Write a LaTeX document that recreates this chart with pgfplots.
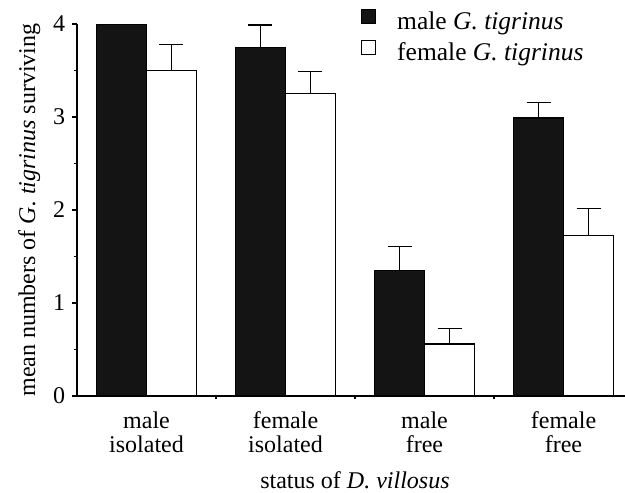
\documentclass[border=0pt]{standalone}
\usepackage{pgfplots}
\pgfplotsset{compat=1.18}
\usepackage{fontspec}
\setmainfont{Liberation Serif}

% square legend swatches, padded to leave room before the text
\pgfplotsset{
  sqlegend/.style={legend image code/.code={
      \draw[line width=1.2pt,##1] (0pt,0pt) rectangle (14pt,14pt);
      \path (35pt,0pt);}},
}

\begin{document}
\fontsize{24}{24}\selectfont
\begin{tikzpicture}
\begin{axis}[
  at={(77pt,97pt)}, anchor=south west,
  scale only axis, width=556pt, height=372pt,
  xmin=-0.5, xmax=3.5, ymin=0, ymax=4,
  axis x line*=bottom, axis y line*=left,
  axis line style={line width=1.2pt, -},
  ybar=0pt, bar width=50pt,
  xtick={0,1,2,3},
  xticklabels={{male\\isolated},{female\\isolated},{male\\free},{female\\free}},
  xticklabel style={align=center, yshift=-3pt},
  major x tick style={draw=none},
  minor xtick={0.5,1.5,2.5},
  ytick={0,1,2,3,4}, minor ytick={0.5,1.5,2.5,3.5},
  yticklabel style={xshift=1pt},
  tick align=outside,
  major tick length=4.7pt, minor tick length=3.3pt,
  tick style={line width=1.2pt, black},
  /pgf/number format/assume math mode=true,
  every axis y label/.style={at={(axis description cs:-0.0755,0.5)}, anchor=base, rotate=90},
  every axis x label/.style={at={(axis description cs:0.5,-0.25)}, anchor=base},
  ylabel={mean numbers of \textit{G. tigrinus} surviving},
  xlabel={status of \textit{D. villosus}},
  legend style={draw=none, fill=none, at={(axis description cs:0.5108,1.0403)},
    anchor=north west, inner sep=0pt, outer sep=0pt, row sep=6pt, column sep=0pt,
    font=\fontsize{25.5}{26}\selectfont,
    nodes={inner sep=0pt, text height=16pt, text depth=5pt}},
  legend cell align=left,
  error bars/y dir=plus, error bars/y explicit,
  error bars/error bar style={line width=1.2pt, black},
  error bars/error mark options={line width=1.2pt, black, mark size=12pt, rotate=90},
]
\addplot[draw=black, fill=black!92, line width=1.2pt, sqlegend]
  coordinates {(0,4.00) +- (0,0) (1,3.75) +- (0,0.24) (2,1.35) +- (0,0.26) (3,2.99) +- (0,0.17)};
\addplot[draw=black, fill=white, line width=1.2pt, sqlegend]
  coordinates {(0,3.50) +- (0,0.28) (1,3.25) +- (0,0.24) (2,0.56) +- (0,0.17) (3,1.73) +- (0,0.29)};
\legend{male \textit{G. tigrinus}, female \textit{G. tigrinus}}
\end{axis}
\pgfresetboundingbox
\path (0pt,0pt) rectangle (625pt,493pt);
\end{tikzpicture}
\end{document}
